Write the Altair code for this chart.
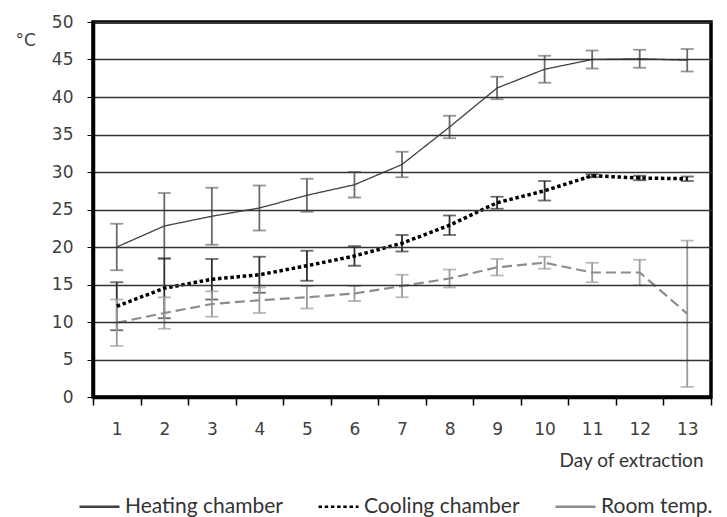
import altair as alt
import pandas as pd

days = list(range(1, 14))
series_names = ["Heating chamber", "Cooling chamber", "Room temp."]

heat_mean = [20.0, 22.8, 24.1, 25.2, 26.9, 28.3, 31.0, 36.0, 41.2, 43.7, 45.0, 45.1, 44.9]
heat_err = [3.1, 4.4, 3.8, 3.0, 2.2, 1.7, 1.7, 1.5, 1.5, 1.8, 1.2, 1.2, 1.5]
cool_mean = [12.1, 14.5, 15.7, 16.3, 17.5, 18.8, 20.5, 22.9, 25.9, 27.5, 29.5, 29.2, 29.1]
cool_err = [3.2, 4.0, 2.7, 2.4, 2.0, 1.3, 1.1, 1.3, 0.8, 1.3, 0.2, 0.3, 0.3]
room_mean = [9.9, 11.2, 12.4, 12.9, 13.3, 13.8, 14.8, 15.8, 17.3, 17.9, 16.6, 16.6, 11.1]
room_err = [3.1, 2.1, 1.7, 1.7, 1.5, 1.0, 1.5, 1.2, 1.1, 0.8, 1.3, 1.7, 9.75]
y_ticks = list(range(0, 51, 5))

rows = []
for name, means, errs in zip(series_names, [heat_mean, cool_mean, room_mean],
                             [heat_err, cool_err, room_err]):
    for d, m, e in zip(days, means, errs):
        rows.append({"series": name, "day": d, "mean": m, "lo": m - e, "hi": m + e})
df = pd.DataFrame(rows)

line_colors = ["#404040", "#000000", "#8c8c8c"]
bar_colors = {"Heating chamber": "#6a6a6a", "Cooling chamber": "#2e2e2e", "Room temp.": "#9a9a9a"}

x_scale = alt.Scale(type="band", paddingInner=0, paddingOuter=0)
x_axis = alt.Axis(
    title="Day of extraction", labelAngle=0, tickBand="extent", tickSize=8,
    tickColor="black", tickWidth=1.5, domain=True, domainColor="black", domainWidth=3.5,
    grid=False, zindex=1,
    labelFont="DejaVu Sans", labelFontSize=17, labelColor="#404040", labelPadding=16,
    titleFont="Lato", titleFontSize=19, titleFontWeight="normal", titleColor="#333333",
    titleAlign="right", titleAnchor="end", titleX=610, titleY=69, titleBaseline="alphabetic",
)
y_scale = alt.Scale(domain=[0, 50], nice=False, zero=True)
y_axis = alt.Axis(
    values=y_ticks, title="°C", titleAngle=0, titleX=-78, titleY=23, titleAlign="left",
    titleBaseline="alphabetic", titleFont="DejaVu Sans", titleFontSize=17,
    titleFontWeight="normal", titleColor="#404040",
    tickSize=6, tickColor="black", tickWidth=1, domain=True, domainColor="black", domainWidth=3.5,
    grid=True, gridColor="#333333", gridWidth=1.4, zindex=1,
    labelFont="DejaVu Sans", labelFontSize=17, labelColor="#404040", labelPadding=14,
)

def X():
    return alt.X("day:O", bandPosition=0.5, scale=x_scale, axis=x_axis)

def Y(field):
    return alt.Y(f"{field}:Q", scale=y_scale, axis=y_axis)

legend = alt.Legend(
    orient="none", legendX=-15, legendY=463, direction="horizontal", title=None,
    symbolType="stroke", symbolSize=1600, symbolStrokeWidth=2.5,
    labelFont="Lato", labelFontSize=21, labelColor="#333333", labelOffset=4,
    columnPadding=30, padding=0,
)
color_enc = alt.Color("series:N", scale=alt.Scale(domain=series_names, range=line_colors), legend=legend)
dash_enc = alt.StrokeDash("series:N", scale=alt.Scale(domain=series_names,
                          range=[[1, 0], [3.5, 2.7], [1, 0]]), legend=legend)

base = alt.Chart(df)

layers = []
# error bars
for name in series_names:
    sub = base.transform_filter(alt.datum.series == name)
    c = bar_colors[name]
    layers.append(sub.mark_rule(color=c, strokeWidth=1.8).encode(x=X(), y=Y("lo"), y2="hi:Q"))
    layers.append(sub.mark_tick(color=c, size=13, thickness=1.8).encode(x=X(), y=Y("lo")))
    layers.append(sub.mark_tick(color=c, size=13, thickness=1.8).encode(x=X(), y=Y("hi")))

heat = base.transform_filter(alt.datum.series == "Heating chamber").mark_line(
    strokeWidth=1.3).encode(x=X(), y=Y("mean"), color=color_enc, strokeDash=dash_enc)
cool = base.transform_filter(alt.datum.series == "Cooling chamber").mark_line(
    strokeWidth=3.5, strokeCap="butt").encode(x=X(), y=Y("mean"), color=color_enc, strokeDash=dash_enc)
room = base.transform_filter(alt.datum.series == "Room temp.").mark_line(
    strokeWidth=2.2, strokeDash=[10, 5]).encode(x=X(), y=Y("mean"), color=color_enc)

chart = alt.layer(*layers, room, cool, heat).properties(
    width=618, height=375,
    padding={"left": 93, "top": 22, "right": 16, "bottom": 120},
    autosize=alt.AutoSizeParams(type="none"),
    background="white",
    view=alt.ViewBackground(stroke="black", strokeWidth=3.5),
).configure_view(stroke="black", strokeWidth=3.5)

chart.save("out.html", embed_options={"renderer": "svg", "actions": False})
